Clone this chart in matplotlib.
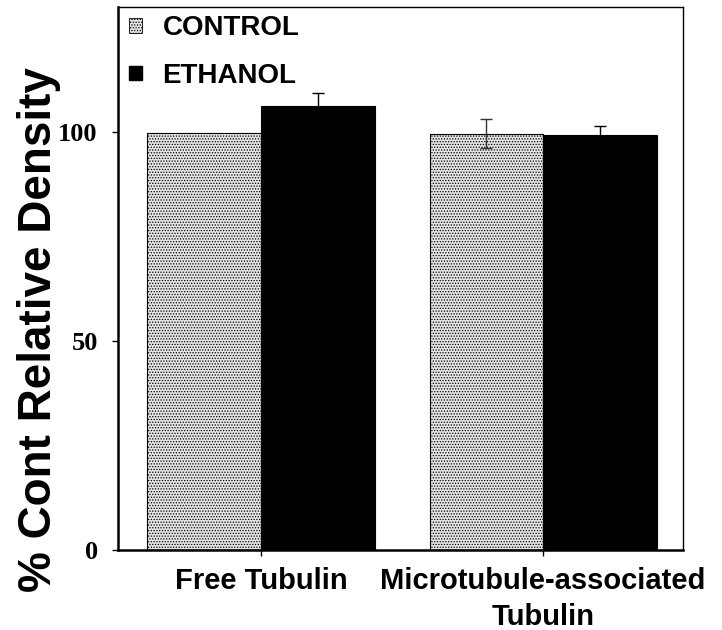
import matplotlib
matplotlib.use("Agg")
import numpy as np
import matplotlib.pyplot as plt
from matplotlib.patches import Patch

# Data
categories = ["Free Tubulin", "Microtubule-associated\nTubulin"]
control_vals = [99.9, 99.7]
control_err = [0.0, 3.5]
ethanol_vals = [106.2, 99.4]
ethanol_err = [3.1, 2.1]
series_labels = ["CONTROL", "ETHANOL"]
y_ticks = [0, 50, 100]

plt.rcParams["hatch.color"] = "#9a9a9a"
plt.rcParams["hatch.linewidth"] = 0.6

fig = plt.figure(figsize=(7.22, 6.3), dpi=100)
ax = fig.add_axes([0.1634, 0.127, 0.7826, 0.862])

x = np.arange(len(categories))
width = 0.4025

ax.bar(x - width / 2, control_vals, width, color="#e4e4e4", edgecolor="black",
       linewidth=0.8, hatch="......", label=series_labels[0])
ax.bar(x + width / 2, ethanol_vals, width, color="black", edgecolor="black",
       linewidth=0.8, label=series_labels[1])

# error bars (skip the ones with no visible error)
c_err = np.array(control_err)
e_err = np.array(ethanol_err)
cm = c_err > 0
em = e_err > 0
ax.errorbar((x - width / 2)[cm], np.array(control_vals)[cm], yerr=c_err[cm], fmt="none",
            ecolor="#333333", elinewidth=1.0, capsize=4, capthick=1.0)
ax.errorbar((x + width / 2)[em], np.array(ethanol_vals)[em], yerr=e_err[em], fmt="none",
            ecolor="black", elinewidth=1.0, capsize=4, capthick=1.0)

ax.set_xlim(-0.507, 1.496)
ax.set_ylim(0, 130)
ax.set_xticks(x)
ax.set_xticklabels(categories, fontsize=21, fontweight="bold",
                   family="Liberation Sans", linespacing=1.35)
ax.set_yticks(y_ticks)
ax.set_yticklabels([str(v) for v in y_ticks], fontsize=19, fontweight="bold",
                   family="Liberation Serif")
ax.tick_params(axis="both", direction="out", length=4.5, width=1.0)
ax.tick_params(axis="x", pad=8)
ax.tick_params(axis="y", pad=10)

for sp in ax.spines.values():
    sp.set_linewidth(1.0)
ax.spines["left"].set_linewidth(1.8)
ax.spines["bottom"].set_linewidth(1.8)

ax.set_ylabel("% Cont Relative Density", fontsize=33, fontweight="bold",
              family="Liberation Sans")
ax.yaxis.set_label_coords(-0.10, 0.405)

handles = [Patch(facecolor="#e4e4e4", edgecolor="black", hatch="......", linewidth=0.6),
           Patch(facecolor="black", edgecolor="black")]
ax.legend(handles, series_labels, loc="upper left", frameon=False,
          prop={"family": "Liberation Sans", "weight": "bold", "size": 20},
          handlelength=0.45, handleheight=0.45, handletextpad=0.75,
          labelspacing=0.78, borderaxespad=0.2, borderpad=0.1,
          bbox_to_anchor=(0.005, 1.0))

fig.savefig("out.png", dpi=100)
